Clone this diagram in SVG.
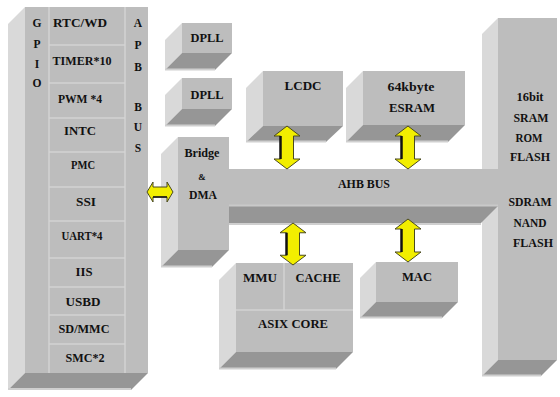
<svg xmlns="http://www.w3.org/2000/svg" xmlns:xlink="http://www.w3.org/1999/xlink" width="560" height="397" viewBox="0 0 560 397">
<style>
.fr{fill:#bdbdbd}
.sd{fill:#d9d9d9}
.bt{fill:#969696}
.hl{stroke:#cfcfcf;stroke-width:2;fill:none}
.sep{stroke:#d3d3d3;stroke-width:1.5;fill:none}
.t{font-family:"Liberation Serif","Times New Roman",serif;font-weight:bold;fill:#111;text-anchor:middle}
.s11{font-size:11.5px}
.s12{font-size:12.5px}
.arr{fill:#f2ee00;stroke:#4a4a20;stroke-width:1}
.ash{stroke:#111;stroke-width:2.5}
</style>
<defs>
<g id="varrow">
<path class="arr" d="M0,0 L13,10 L6.5,10 L6.5,33 L13,33 L0,43 L-13,33 L-6.5,33 L-6.5,10 L-13,10 Z"/>
<line class="ash" x1="-6.5" y1="10" x2="-6.5" y2="33"/>
</g>
</defs>
<rect width="560" height="397" fill="#ffffff"/>

<!-- GPIO / peripheral column -->
<g id="gpio-block">
<polygon class="sd" points="25,7 8,24 8,390 25,373"/>
<polygon class="bt" points="25,373 8,390 131,390 148,373"/>
<line class="hl" x1="8" y1="389" x2="131" y2="389"/>
<rect class="fr" x="25" y="7" width="123" height="366"/>
<line class="sep" x1="49" y1="7" x2="49" y2="373"/>
<line class="sep" x1="125" y1="7" x2="125" y2="373"/>
<line class="sep" x1="49" y1="45" x2="125" y2="45"/>
<line class="sep" x1="49" y1="83" x2="125" y2="83"/>
<line class="sep" x1="49" y1="118" x2="125" y2="118"/>
<line class="sep" x1="49" y1="152" x2="125" y2="152"/>
<line class="sep" x1="49" y1="187" x2="125" y2="187"/>
<line class="sep" x1="49" y1="221" x2="125" y2="221"/>
<line class="sep" x1="49" y1="258" x2="125" y2="258"/>
<line class="sep" x1="49" y1="287" x2="125" y2="287"/>
<line class="sep" x1="49" y1="315" x2="125" y2="315"/>
<line class="sep" x1="49" y1="344" x2="125" y2="344"/>
<text class="t s11" x="37" y="27">G</text>
<text class="t s11" x="37" y="48">P</text>
<text class="t s11" x="37" y="68">I</text>
<text class="t s11" x="37" y="87">O</text>
<text class="t s11" x="138" y="27">A</text>
<text class="t s11" x="138" y="49">P</text>
<text class="t s11" x="138" y="71">B</text>
<text class="t s11" x="138" y="111">B</text>
<text class="t s11" x="138" y="131">U</text>
<text class="t s11" x="138" y="152">S</text>
<text class="t s11" x="80" y="27" textLength="54" lengthAdjust="spacingAndGlyphs">RTC/WD</text>
<text class="t s11" x="82" y="65" textLength="59" lengthAdjust="spacingAndGlyphs">TIMER*10</text>
<text class="t s11" x="80" y="103" textLength="44" lengthAdjust="spacingAndGlyphs">PWM *4</text>
<text class="t s11" x="80" y="135" textLength="32" lengthAdjust="spacingAndGlyphs">INTC</text>
<text class="t s11" x="83" y="169" textLength="24" lengthAdjust="spacingAndGlyphs">PMC</text>
<text class="t s11" x="86" y="206" textLength="20" lengthAdjust="spacingAndGlyphs">SSI</text>
<text class="t s11" x="82" y="240" textLength="41" lengthAdjust="spacingAndGlyphs">UART*4</text>
<text class="t s11" x="84" y="276" textLength="17" lengthAdjust="spacingAndGlyphs">IIS</text>
<text class="t s11" x="83" y="306" textLength="35" lengthAdjust="spacingAndGlyphs">USBD</text>
<text class="t s11" x="84" y="333" textLength="51" lengthAdjust="spacingAndGlyphs">SD/MMC</text>
<text class="t s11" x="85" y="362" textLength="39" lengthAdjust="spacingAndGlyphs">SMC*2</text>
</g>

<!-- DPLL 1 -->
<g id="dpll1">
<polygon class="sd" points="182,23 165,40 165,70 182,53"/>
<polygon class="bt" points="182,53 165,70 215,70 232,53"/>
<line class="hl" x1="165" y1="69.5" x2="215" y2="69.5"/>
<rect class="fr" x="182" y="23" width="50" height="30"/>
<text class="t s12" x="207" y="42" textLength="33" lengthAdjust="spacingAndGlyphs">DPLL</text>
</g>

<!-- DPLL 2 -->
<g id="dpll2">
<polygon class="sd" points="182,78 165,95 165,126 182,109"/>
<polygon class="bt" points="182,109 165,126 215,126 232,109"/>
<line class="hl" x1="165" y1="125.5" x2="215" y2="125.5"/>
<rect class="fr" x="182" y="78" width="50" height="31"/>
<text class="t s12" x="207" y="99" textLength="33" lengthAdjust="spacingAndGlyphs">DPLL</text>
</g>

<!-- LCDC -->
<g id="lcdc">
<polygon class="sd" points="263,71 246,88 246,142 263,126"/>
<polygon class="bt" points="263,126 246,142 326,142 343,126"/>
<line class="hl" x1="246" y1="141.5" x2="326" y2="141.5"/>
<rect class="fr" x="263" y="71" width="80" height="55"/>
<text class="t s12" x="303" y="90" textLength="37" lengthAdjust="spacingAndGlyphs">LCDC</text>
</g>

<!-- ESRAM -->
<g id="esram">
<polygon class="sd" points="363,71 346,88 346,142 363,125"/>
<polygon class="bt" points="363,125 346,142 448,142 465,125"/>
<line class="hl" x1="346" y1="141.5" x2="448" y2="141.5"/>
<rect class="fr" x="363" y="71" width="102" height="54"/>
<text class="t s12" x="411" y="91" textLength="47" lengthAdjust="spacingAndGlyphs">64kbyte</text>
<text class="t s12" x="412" y="112" textLength="46" lengthAdjust="spacingAndGlyphs">ESRAM</text>
</g>

<!-- External memory -->
<g id="ext-memory">
<polygon class="sd" points="498,18 482,34 482,376 498,360"/>
<polygon class="bt" points="498,360 482,376 541,376 557,360"/>
<line class="hl" x1="482" y1="375.5" x2="541" y2="375.5"/>
<rect class="fr" x="498" y="18" width="59" height="342"/>
<text class="t s12" x="530" y="101" textLength="27" lengthAdjust="spacingAndGlyphs">16bit</text>
<text class="t s12" x="531" y="122" textLength="35" lengthAdjust="spacingAndGlyphs">SRAM</text>
<text class="t s12" x="529" y="142" textLength="27" lengthAdjust="spacingAndGlyphs">ROM</text>
<text class="t s12" x="530" y="161" textLength="40" lengthAdjust="spacingAndGlyphs">FLASH</text>
<text class="t s12" x="530" y="206" textLength="43" lengthAdjust="spacingAndGlyphs">SDRAM</text>
<text class="t s12" x="530" y="227" textLength="33" lengthAdjust="spacingAndGlyphs">NAND</text>
<text class="t s12" x="533" y="247" textLength="40" lengthAdjust="spacingAndGlyphs">FLASH</text>
</g>

<!-- AHB bus -->
<g id="ahb-bus">
<polygon class="bt" points="229,206 229,223 481,223 498,206"/>
<line class="hl" x1="229" y1="224" x2="481" y2="224"/>
<rect class="fr" x="229" y="169" width="269" height="37"/>
<line x1="229" y1="205.5" x2="498" y2="205.5" stroke="#c9c9c9" stroke-width="2"/>
<text class="t s12" x="364" y="188" textLength="52" lengthAdjust="spacingAndGlyphs">AHB BUS</text>
</g>

<!-- Bridge & DMA -->
<g id="bridge-dma">
<polygon class="sd" points="178,137 161,154 161,267 178,250"/>
<polygon class="bt" points="178,250 161,267 212,267 229,250"/>
<line class="hl" x1="161" y1="266.5" x2="212" y2="266.5"/>
<rect class="fr" x="178" y="137" width="51" height="113"/>
<text class="t s12" x="202" y="157" textLength="35" lengthAdjust="spacingAndGlyphs">Bridge</text>
<text class="t" style="font-size:9px" x="202" y="180">&amp;</text>
<text class="t s12" x="203" y="199" textLength="28" lengthAdjust="spacingAndGlyphs">DMA</text>
</g>

<!-- ASIX core -->
<g id="asix-core">
<polygon class="sd" points="236,263 219,280 219,369 236,352"/>
<polygon class="bt" points="236,352 219,369 336,369 353,352"/>
<line class="hl" x1="219" y1="368.5" x2="336" y2="368.5"/>
<rect class="fr" x="236" y="263" width="117" height="89"/>
<line class="sep" x1="284" y1="263" x2="284" y2="310"/>
<line class="sep" x1="236" y1="310" x2="353" y2="310"/>
<text class="t s12" x="260" y="282" textLength="34" lengthAdjust="spacingAndGlyphs">MMU</text>
<text class="t s12" x="318" y="282" textLength="45" lengthAdjust="spacingAndGlyphs">CACHE</text>
<text class="t s12" x="293" y="328" textLength="70" lengthAdjust="spacingAndGlyphs">ASIX CORE</text>
</g>

<!-- MAC -->
<g id="mac">
<polygon class="sd" points="376,262 360,278 360,318 376,302"/>
<polygon class="bt" points="376,302 360,318 442,318 458,302"/>
<line class="hl" x1="360" y1="317.5" x2="442" y2="317.5"/>
<rect class="fr" x="376" y="262" width="82" height="40"/>
<text class="t s12" x="417" y="281" textLength="30" lengthAdjust="spacingAndGlyphs">MAC</text>
</g>

<!-- connectors -->
<g id="connectors">
<path class="arr" d="M147,192 L153,182 L153,187 L167,187 L167,182 L173,192 L167,202 L167,197 L153,197 L153,202 Z"/>
<line class="ash" x1="153" y1="197" x2="167" y2="197" style="stroke-width:1.5"/>
<use xlink:href="#varrow" transform="translate(287,126)"/>
<use xlink:href="#varrow" transform="translate(408,126)"/>
<use xlink:href="#varrow" transform="translate(293,223) scale(1,0.977)"/>
<use xlink:href="#varrow" transform="translate(408,219) scale(1,1)"/>
</g>
</svg>
